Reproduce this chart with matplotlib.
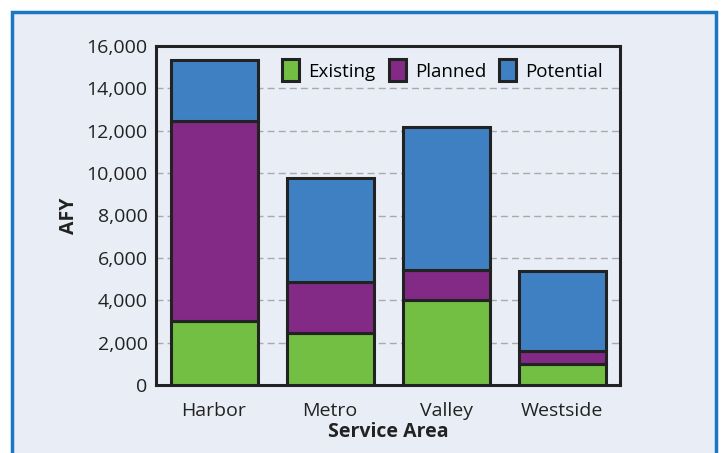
import matplotlib.pyplot as plt
import numpy as np
from matplotlib.patches import Rectangle

# 服务区域与各类供水量 (AFY)
areas = ['Harbor', 'Metro', 'Valley', 'Westside']
existing = [3000, 2450, 4000, 1000]
planned = [9450, 2400, 1450, 600]
potential = [2900, 4900, 6750, 3800]

colors = {'Existing': '#72bf44', 'Planned': '#822a85', 'Potential': '#3f80c3'}
bg = '#e9edf6'

plt.rcParams['font.family'] = ['Open Sans', 'DejaVu Sans']

fig = plt.figure(figsize=(7.22, 4.53), dpi=100)
fig.patch.set_facecolor('white')
# 外框
frame = Rectangle((12 / 722, -0.05), 704 / 722, 1 - 12 / 453 + 0.05,
                  transform=fig.transFigure, facecolor=bg,
                  edgecolor='#1a78c2', linewidth=2.5, zorder=-10)
fig.add_artist(frame)

ax = fig.add_axes([156 / 722, 1 - 385 / 453, 464 / 722, 339 / 453])
ax.set_facecolor(bg)

x = np.arange(len(areas))
bottom = np.zeros(len(areas))
for name, vals in [('Existing', existing), ('Planned', planned), ('Potential', potential)]:
    ax.bar(x, vals, width=0.75, bottom=bottom, color=colors[name], edgecolor='#222222',
           linewidth=2.2, label=name, zorder=3)
    bottom += np.array(vals)

ax.set_ylim(0, 16000)
ax.set_xlim(-0.5, 3.5)
ax.set_yticks(range(0, 16001, 2000))
ax.set_yticklabels([f'{v:,}' for v in range(0, 16001, 2000)])
ax.set_xticks(x)
ax.set_xticklabels(areas)
ax.tick_params(length=0, labelsize=14, colors='#222222', pad=6)
ax.tick_params(axis='x', pad=12)
ax.yaxis.grid(True, linestyle=(0, (5, 3)), color='#aaaaaa', linewidth=1, zorder=0)
for s in ax.spines.values():
    s.set_linewidth(2.2)
    s.set_color('#222222')

ax.set_ylabel('AFY', fontsize=14, fontweight='bold', color='#222222')
ax.yaxis.set_label_coords(-0.165, 0.5)
ax.set_xlabel('Service Area', fontsize=14, fontweight='bold', color='#222222', labelpad=2)

leg = ax.legend(loc='upper right', ncol=3, frameon=False, fontsize=13.5, handlelength=0.9,
                handleheight=1.4, handletextpad=0.5, columnspacing=0.7,
                bbox_to_anchor=(1.0, 1.01))
for h in leg.legend_handles:
    h.set_linewidth(2.2)

plt.savefig('out.png', dpi=100, facecolor=fig.get_facecolor())
